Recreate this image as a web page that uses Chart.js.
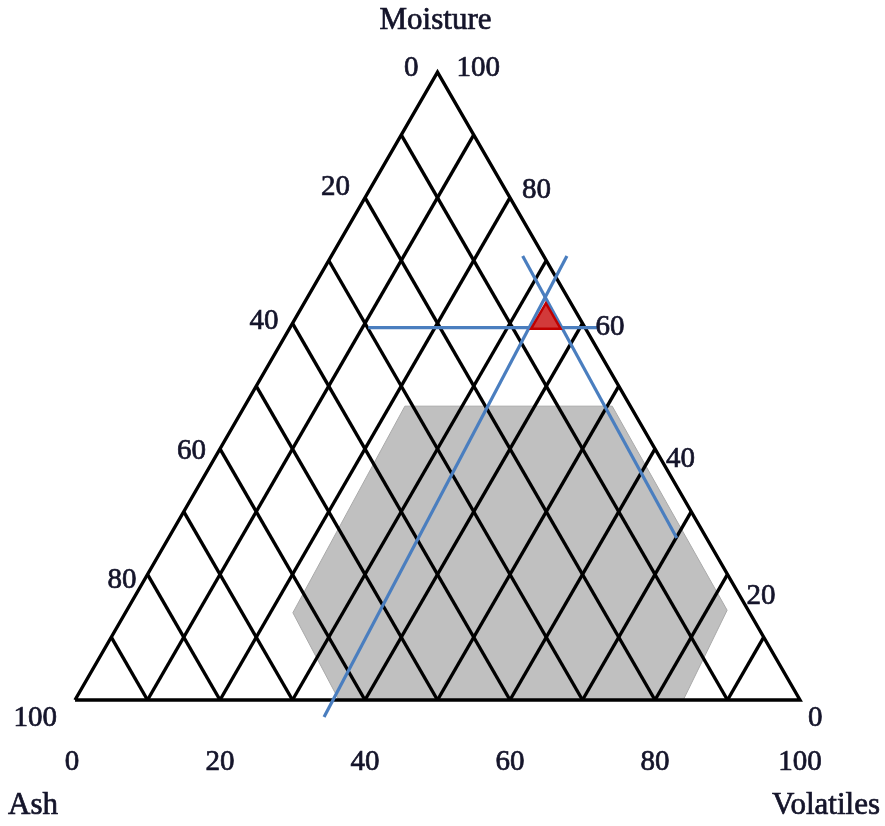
<!DOCTYPE html>
<html>
<head>
<meta charset="utf-8">
<script src="https://cdn.jsdelivr.net/npm/chart.js@4.4.0/dist/chart.umd.min.js"></script>
<style>
  html, body { margin: 0; padding: 0; background: #ffffff; }
  canvas { display: block; }
</style>
</head>
<body>
<canvas id="ternary" width="885" height="826"></canvas>
<script>
// Ternary composition diagram: Ash (bottom-left corner), Volatiles (bottom-right), Moisture (top)
const axisTitles = ['Moisture', 'Ash', 'Volatiles'];
const gridSteps = [10, 20, 30, 40, 50, 60, 70, 80, 90];
const tickLabels = [0, 20, 40, 60, 80, 100];

// shaded zone outline, given as Volatiles % and Moisture % (Ash is the remainder)
const zoneVolatiles = [22.1, 50.7, 82.8, 83.9, 36.4, 23.1];
const zoneMoisture  = [46.8, 46.8, 14.3, 0.0, 0.0, 13.9];

// guide lines crossing at the sample
const guideLevelVolatiles = [10.8, 42.4];
const guideLevelMoisture  = [59.3, 59.3];
const guideRiseVolatiles  = [35.7, 32.5];
const guideRiseMoisture   = [-2.7, 70.7];
const guideFallVolatiles  = [26.4, 70.1];
const guideFallMoisture   = [70.7, 25.8];

// sample composition (%)
const sampleAsh       = [4.8];
const sampleVolatiles = [34.7];
const sampleMoisture  = [60.5];

// ternary -> plane: x runs along the base, y is the moisture height
function toPlane(volatiles, moisture) {
  return { x: volatiles + moisture / 2, y: moisture };
}

const INK = '#000000';
const GUIDE = '#4a7ebf';

function lineSet(points, color, width, order) {
  return {
    type: 'scatter',
    data: points,
    showLine: true,
    borderColor: color,
    borderWidth: width,
    pointRadius: 0,
    fill: false,
    tension: 0,
    order: order,
    clip: false,
    borderJoinStyle: 'miter',
    borderCapStyle: 'butt'
  };
}

const datasets = [];

// sample marker
datasets.push({
  type: 'scatter',
  data: sampleVolatiles.map((v, i) => toPlane(v, sampleMoisture[i])),
  pointStyle: 'triangle',
  pointRadius: 17,
  backgroundColor: '#d23a3a',
  borderColor: '#c00000',
  borderWidth: 2.5,
  order: 0,
  clip: false
});

// guide lines
datasets.push(lineSet(guideLevelVolatiles.map((v, i) => toPlane(v, guideLevelMoisture[i])), GUIDE, 3.2, 1));
datasets.push(lineSet(guideRiseVolatiles.map((v, i) => toPlane(v, guideRiseMoisture[i])), GUIDE, 3.2, 1));
datasets.push(lineSet(guideFallVolatiles.map((v, i) => toPlane(v, guideFallMoisture[i])), GUIDE, 3.2, 1));

// grid: constant Volatiles lines and constant Ash lines
gridSteps.forEach(s => {
  datasets.push(lineSet([toPlane(s, 0), toPlane(s, 100 - s)], INK, 3.4, 2));
  datasets.push(lineSet([toPlane(100 - s, 0), toPlane(0, 100 - s)], INK, 3.4, 2));
});

// triangle frame
datasets.push(lineSet([toPlane(0, 0), toPlane(100, 0), toPlane(0, 100), toPlane(0, 0)], INK, 3.4, 2));

// shaded zone
const zonePts = zoneVolatiles.map((v, i) => toPlane(v, zoneMoisture[i]));
zonePts.push(zonePts[0]);
datasets.push({
  type: 'scatter',
  data: zonePts,
  showLine: true,
  fill: 'shape',
  backgroundColor: '#c0c0c0',
  borderColor: '#a9a9a9',
  borderWidth: 1,
  pointRadius: 0,
  tension: 0,
  order: 3,
  clip: false
});

// text: axis titles and scale numbers
const labelPlugin = {
  id: 'ternaryLabels',
  afterDatasetsDraw(chart) {
    const { ctx, scales } = chart;
    const px = p => ({ x: scales.x.getPixelForValue(p.x), y: scales.y.getPixelForValue(p.y) });
    const put = (text, x, y) => { ctx.strokeText(text, x, y); ctx.fillText(text, x, y); };
    ctx.save();
    ctx.fillStyle = '#14142a';
    ctx.strokeStyle = '#14142a';
    ctx.lineWidth = 0.7;
    ctx.textBaseline = 'middle';
    ctx.font = '29px "Liberation Serif", "DejaVu Serif", serif';

    // Ash scale on the left side (value v at Moisture = 100 - v), right-aligned
    const leftShift = { 0: [-19, -4], 20: [-15, -10], 40: [-14, -2], 60: [-14, 3], 80: [-11, 6], 100: [-18, 18] };
    ctx.textAlign = 'right';
    tickLabels.forEach(v => {
      const p = px(toPlane(0, 100 - v));
      const d = leftShift[v];
      put(String(v), p.x + d[0], p.y + d[1]);
    });

    // Moisture scale on the right side, left-aligned
    const rightShift = { 0: [8, 18], 20: [19, 22], 40: [11, 11], 60: [13, 4], 80: [12, -7], 100: [19, -4] };
    ctx.textAlign = 'left';
    tickLabels.forEach(v => {
      const p = px(toPlane(100 - v, v));
      const d = rightShift[v];
      put(String(v), p.x + d[0], p.y + d[1]);
    });

    // Volatiles scale along the base, centred
    ctx.textAlign = 'center';
    tickLabels.forEach(v => {
      const p = px(toPlane(v, 0));
      put(String(v), p.x - (v === 0 ? 3 : 0), p.y + 62);
    });

    // axis titles at the corners
    ctx.font = '31px "Liberation Serif", "DejaVu Serif", serif';
    const top = px(toPlane(0, 100));
    const bl = px(toPlane(0, 0));
    const br = px(toPlane(100, 0));
    ctx.textAlign = 'center';
    put(axisTitles[0], top.x - 2, top.y - 51);
    put(axisTitles[1], bl.x - 42, bl.y + 106);
    put(axisTitles[2], br.x + 26, br.y + 106);
    ctx.restore();
  }
};

// plane units -> pixels: 7.25 px per base unit, equilateral triangle
const PX = 7.25;
const PY = 7.25 * Math.sqrt(3) / 2;

new Chart(document.getElementById('ternary'), {
  type: 'scatter',
  data: { datasets },
  options: {
    responsive: false,
    animation: false,
    devicePixelRatio: 1,
    events: [],
    layout: { padding: 0, autoPadding: false },
    plugins: { legend: { display: false }, tooltip: { enabled: false } },
    scales: {
      x: { type: 'linear', display: false, min: -75 / PX, max: 810 / PX },
      y: { type: 'linear', display: false, min: -126 / PY, max: 700 / PY }
    }
  },
  plugins: [labelPlugin]
});
</script>
</body>
</html>
